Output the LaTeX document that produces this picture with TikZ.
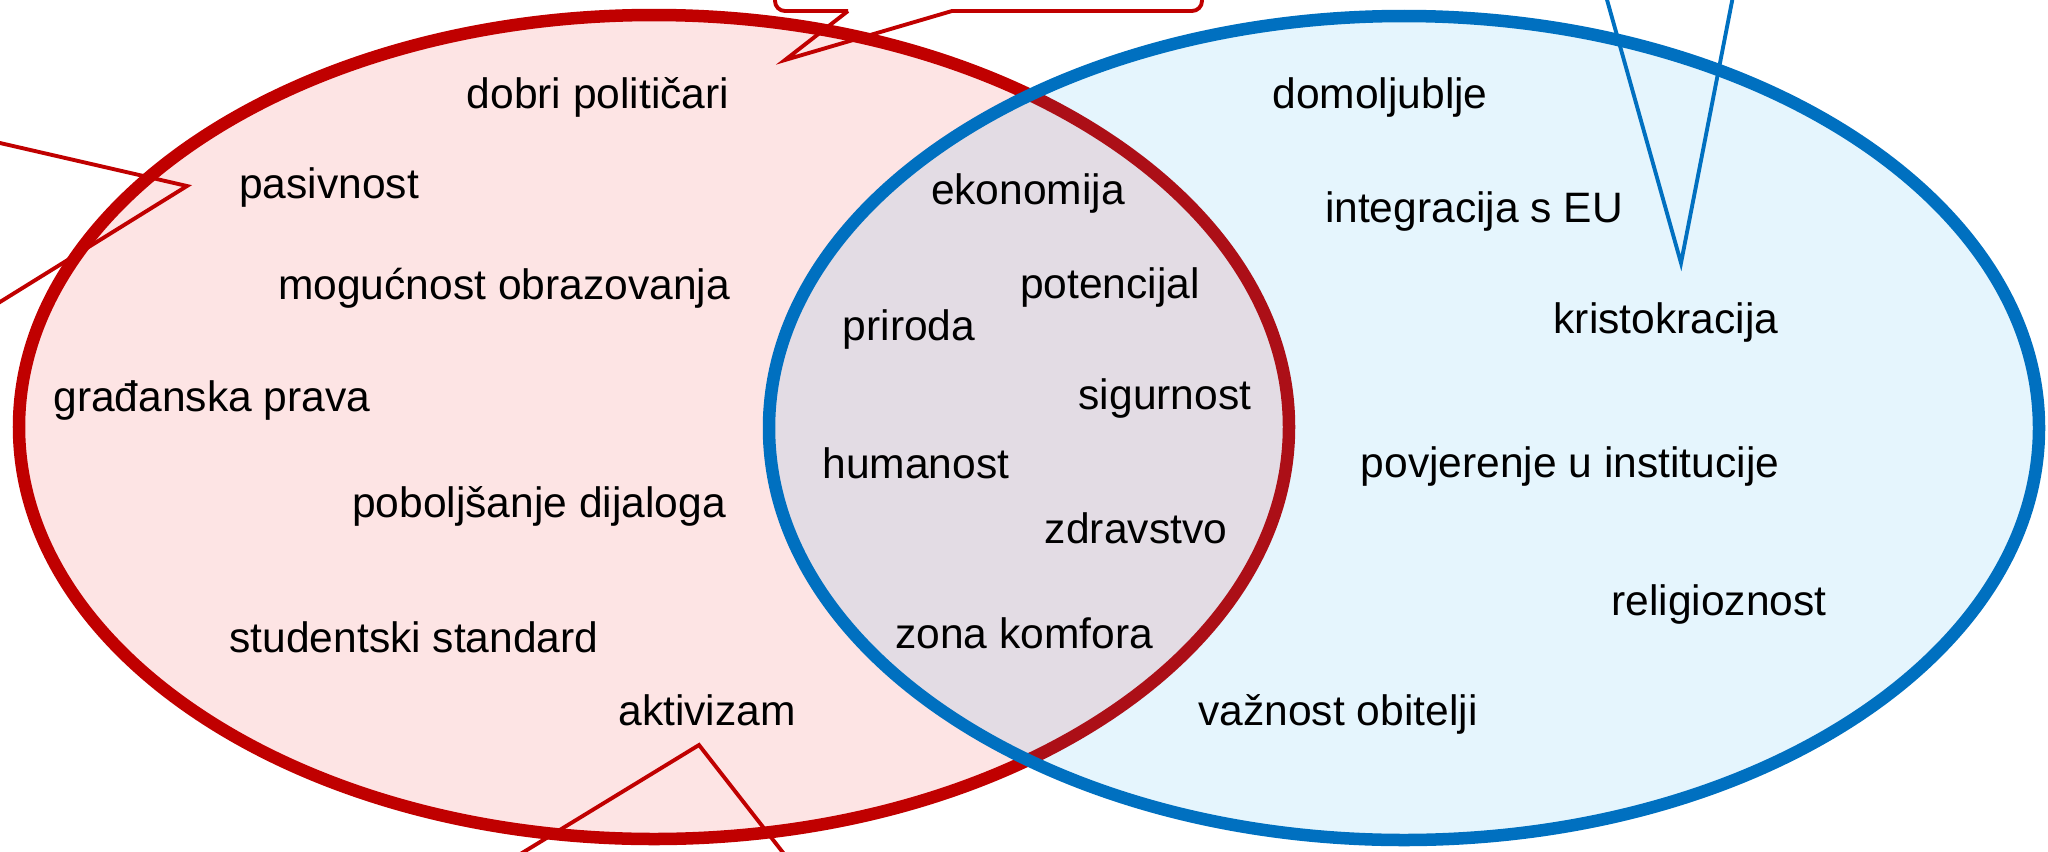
\documentclass[tikz,border=0pt]{standalone}
\usepackage{fontspec}
\setmainfont{Liberation Sans}
\definecolor{vennRed}{HTML}{C00000}
\definecolor{vennPink}{HTML}{FDE4E4}
\definecolor{vennBlue}{HTML}{0070C0}
\definecolor{vennSky}{RGB}{0,155,235}
\tikzset{
	pojam/.style={font=\fontsize{12.1}{14}\selectfont, inner sep=0pt, anchor=base},
	krug/.style={line width=0.125cm},
	oblacic/.style={line width=1.1pt},
}

\begin{document}
\begin{tikzpicture}[x=0.01cm, y=-0.01cm]
		\clip (0,0) rectangle (2048,851);

		\draw[krug, vennRed, fill=vennPink] (654,427) ellipse (635 and 412);
		\fill[vennSky, fill opacity=0.1] (1404,428) ellipse (635 and 412);
		\draw[krug, vennBlue] (1404,428) ellipse (635 and 412);

		\draw[oblacic, vennRed] (848,11) -- (785,60) -- (952,11) [rounded corners=0.1cm] -- (1202,11) -- (1202,-80) -- (775,-80) -- (775,11) [sharp corners] -- (848,11);
		\draw[oblacic, vennRed] (-100,120) -- (187,186) -- (-100,364);
		\draw[oblacic, vennRed] (445,900) -- (699,745) -- (820,900);
		\draw[oblacic, vennBlue] (1593,-50) -- (1681,263) -- (1742,-50);

		\node[pojam] (dobriPoliticari) at (598,108) {dobri političari};
		\node[pojam] (pasivnost) at (329,198) {pasivnost};
		\node[pojam] (mogucnostObrazovanja) at (504,299) {mogućnost obrazovanja};
		\node[pojam] (gradjanskaPrava) at (212,411) {građanska prava};
		\node[pojam] (poboljsanjeDijaloga) at (539,517) {poboljšanje dijaloga};
		\node[pojam] (studentskiStandard) at (414,652) {studentski standard};
		\node[pojam] (aktivizam) at (707,725) {aktivizam};

		\node[pojam] (ekonomija) at (1028,204) {ekonomija};
		\node[pojam] (potencijal) at (1110,298) {potencijal};
		\node[pojam] (priroda) at (909,340) {priroda};
		\node[pojam] (sigurnost) at (1165,409) {sigurnost};
		\node[pojam] (humanost) at (916,478) {humanost};
		\node[pojam] (zdravstvo) at (1136,543) {zdravstvo};
		\node[pojam] (zonaKomfora) at (1024,648) {zona komfora};

		\node[pojam] (domoljublje) at (1380,108) {domoljublje};
		\node[pojam] (integracijaEU) at (1474,222) {integracija s EU};
		\node[pojam] (kristokracija) at (1666,333) {kristokracija};
		\node[pojam] (povjerenjeInstitucije) at (1570,477) {povjerenje u institucije};
		\node[pojam] (religioznost) at (1719,615) {religioznost};
		\node[pojam] (vaznostObitelji) at (1338,725) {važnost obitelji};
	\end{tikzpicture}
\end{document}
